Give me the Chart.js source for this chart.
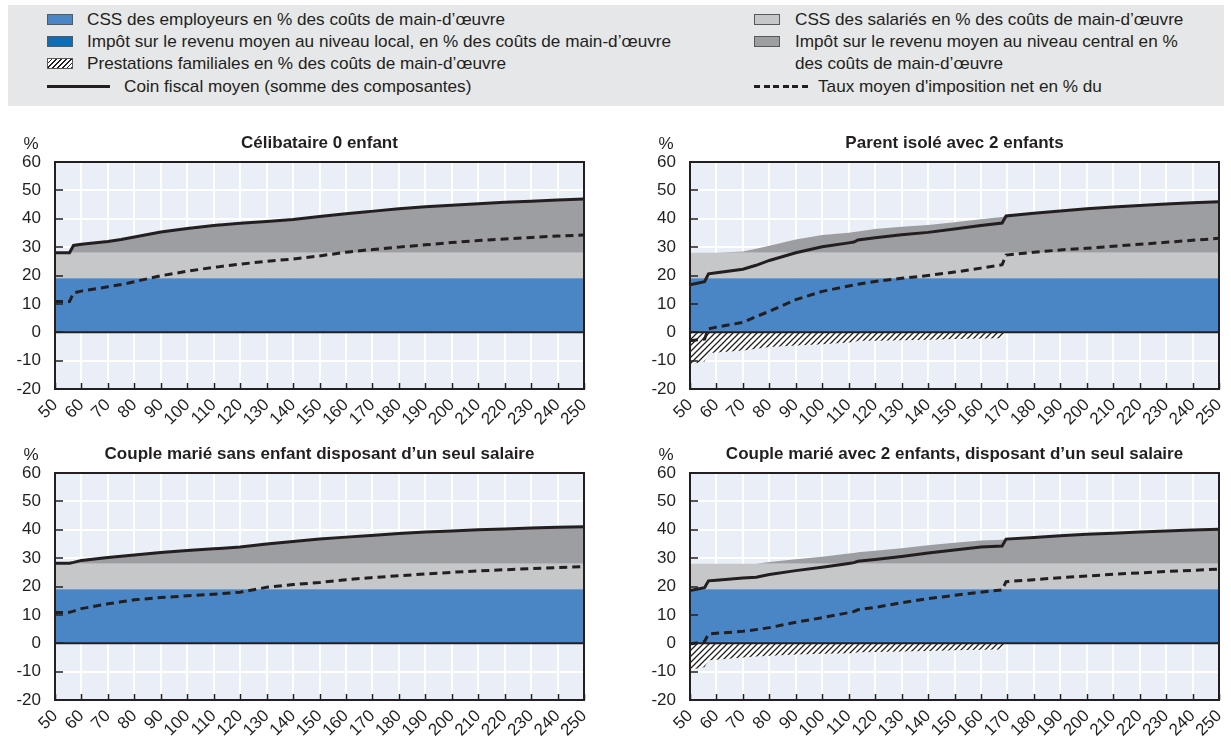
<!DOCTYPE html>
<html><head><meta charset="utf-8">
<script src="https://cdn.jsdelivr.net/npm/chart.js@4.4.1/dist/chart.umd.min.js"></script>
<style>
html,body{margin:0;padding:0;background:#fff;}
body{width:1231px;height:741px;position:relative;overflow:hidden;font-family:"Liberation Sans",Arial,sans-serif;color:#231f20;}
#legendBox{position:absolute;left:8px;top:5px;width:1216px;height:101px;background:#e6e7e8;}
.sw{position:absolute;width:24px;height:9px;border:1px solid #58595b;}
.tx{position:absolute;font-size:17px;line-height:19px;white-space:nowrap;transform:scaleX(1.01);transform-origin:0 50%;color:#231f20;}
.ln{position:absolute;height:3px;}
.panel{position:absolute;}
</style></head>
<body>
<div id="legendBox"></div>
<div class="panel" style="left:0px;top:125px"><canvas id="c1" width="600" height="300"></canvas></div>
<div class="panel" style="left:635px;top:125px"><canvas id="c2" width="596" height="300"></canvas></div>
<div class="panel" style="left:0px;top:436px"><canvas id="c3" width="600" height="300"></canvas></div>
<div class="panel" style="left:635px;top:436px"><canvas id="c4" width="596" height="300"></canvas></div>
<script>
// ---------- DATA ----------
// Wage levels (% of average wage)
const wageLevels = [50, 55.5, 57, 60, 70, 75, 80, 90, 100, 110, 112, 113.5, 120, 130, 140, 150, 160, 168, 169.5, 180, 190, 200, 210, 220, 230, 240, 250];
const xTickLabels = ['50','60','70','80','90','100','110','120','130','140','150','160','170','180','190','200','210','220','230','240','250'];
const yTickLabels = ['-20','-10','0','10','20','30','40','50','60'];

// Components common to all household types
const employerSSC = [19,19,19,19,19,19,19,19,19,19,19,19,19,19,19,19,19,19,19,19,19,19,19,19,19,19,19];
const employeeSSC = [9,9,9,9,9,9,9,9,9,9,9,9,9,9,9,9,9,9,9,9,9,9,9,9,9,9,9];
const localTax    = [0,0,0,0,0,0,0,0,0,0,0,0,0,0,0,0,0,0,0,0,0,0,0,0,0,0,0];

// Célibataire 0 enfant
const singleCentralTax = [0, 0, 2.6, 3.0, 4.0, 4.7, 5.6, 7.3, 8.6, 9.6, 9.8, 9.9, 10.4, 11.0, 11.7, 12.8, 13.8, 14.5, 14.6, 15.5, 16.2, 16.8, 17.3, 17.8, 18.2, 18.6, 19.0];
const singleBenefits   = [0,0,0,0,0,0,0,0,0,0,0,0,0,0,0,0,0,0,0,0,0,0,0,0,0,0,0];
const singleTaxWedge   = [28.0, 28.0, 30.6, 31.0, 32.0, 32.7, 33.6, 35.3, 36.6, 37.6, 37.8, 37.9, 38.4, 39.0, 39.7, 40.8, 41.8, 42.5, 42.6, 43.5, 44.2, 44.8, 45.3, 45.8, 46.2, 46.6, 47.0];
const singleNetRate    = [10.8, 10.8, 13.9, 14.5, 16.0, 16.8, 17.8, 19.9, 21.5, 22.9, 23.1, 23.3, 24.0, 25.0, 25.8, 26.9, 28.2, 29.0, 29.1, 30.0, 30.8, 31.6, 32.3, 32.9, 33.4, 33.9, 34.3];

// Parent isolé avec 2 enfants
const loneCentralTax = [0, 0, 0, 0, 0.5, 1.4, 2.5, 4.7, 6.3, 7.1, 7.3, 7.5, 8.4, 9.2, 9.8, 10.8, 11.8, 12.6, 13.0, 13.9, 14.7, 15.5, 16.1, 16.7, 17.2, 17.6, 18.0];
const loneBenefits   = [-11.3, -10.3, -7.3, -7.1, -6.4, -5.8, -5.2, -4.7, -4.2, -3.6, -3.5, -3.0, -3.0, -2.8, -2.6, -2.4, -2.2, -2.1, 0, 0, 0, 0, 0, 0, 0, 0, 0];
const loneTaxWedge   = [16.7, 17.8, 20.6, 21.0, 22.2, 23.6, 25.3, 28.0, 30.1, 31.5, 31.8, 32.5, 33.3, 34.4, 35.2, 36.4, 37.6, 38.5, 41.0, 41.9, 42.7, 43.5, 44.1, 44.7, 45.2, 45.6, 46.0];
const loneNetRate    = [-3.0, -2.4, 1.2, 1.8, 3.5, 5.5, 7.4, 11.5, 14.4, 16.3, 16.6, 16.9, 17.9, 19.0, 20.0, 21.2, 22.6, 23.8, 27.2, 28.2, 29.0, 29.6, 30.3, 31.0, 31.7, 32.4, 33.1];

// Couple marié sans enfant disposant d'un seul salaire
const coupleCentralTax = [0.2, 0.2, 0.5, 1.2, 2.2, 2.7, 3.1, 4.0, 4.7, 5.3, 5.4, 5.5, 5.9, 7.0, 7.9, 8.7, 9.4, 9.9, 10.0, 10.7, 11.2, 11.6, 12.0, 12.3, 12.6, 12.9, 13.1];
const coupleBenefits   = [0,0,0,0,0,0,0,0,0,0,0,0,0,0,0,0,0,0,0,0,0,0,0,0,0,0,0];
const coupleTaxWedge   = [28.2, 28.2, 28.5, 29.2, 30.2, 30.7, 31.1, 32.0, 32.7, 33.3, 33.4, 33.5, 33.9, 35.0, 35.9, 36.7, 37.4, 37.9, 38.0, 38.7, 39.2, 39.6, 40.0, 40.3, 40.6, 40.9, 41.1];
const coupleNetRate    = [10.8, 10.9, 11.3, 12.2, 13.9, 14.6, 15.3, 16.1, 16.7, 17.3, 17.4, 17.5, 18.0, 19.7, 20.7, 21.4, 22.4, 23.0, 23.1, 23.8, 24.4, 25.0, 25.5, 25.9, 26.3, 26.7, 27.0];

// Couple marié avec 2 enfants, disposant d'un seul salaire
const couple2CentralTax = [0, 0, 0, 0, 0, 0, 0.6, 1.6, 2.5, 3.6, 3.8, 4.1, 4.6, 5.5, 6.5, 7.4, 8.2, 8.5, 8.7, 9.3, 9.9, 10.4, 10.8, 11.2, 11.6, 11.9, 12.2];
const couple2Benefits   = [-9.4, -8.4, -6.0, -5.8, -5.0, -4.7, -4.4, -4.0, -3.7, -3.5, -3.4, -3.2, -3.1, -2.9, -2.7, -2.5, -2.3, -2.2, 0, 0, 0, 0, 0, 0, 0, 0, 0];
const couple2TaxWedge   = [18.6, 19.6, 22.0, 22.2, 23.0, 23.3, 24.2, 25.6, 26.8, 28.1, 28.4, 28.9, 29.5, 30.6, 31.8, 32.9, 33.9, 34.3, 36.7, 37.3, 37.9, 38.4, 38.8, 39.2, 39.6, 39.9, 40.2];
const couple2NetRate    = [-0.3, 0.6, 3.3, 3.5, 4.2, 4.8, 5.5, 7.4, 9.0, 10.8, 11.2, 11.8, 12.6, 14.3, 15.7, 16.9, 18.0, 18.8, 21.7, 22.4, 23.1, 23.7, 24.3, 24.8, 25.3, 25.7, 26.1];

// ---------- STYLE ----------
const FONT = '"Liberation Sans", Arial, sans-serif';
const INK = '#231f20';
const C_EMPLOYER = '#4a86c6';
const C_LOCAL = '#0d6db6';
const C_EMPLOYEE = '#c6c7c9';
const C_CENTRAL = '#9d9ea2';
const PLOT_BG = '#e9eef7';

function makeHatch() {
  const s = 6;
  const c = document.createElement('canvas');
  c.width = s; c.height = s;
  const g = c.getContext('2d');
  g.fillStyle = '#ffffff'; g.fillRect(0, 0, s, s);
  g.strokeStyle = INK; g.lineWidth = 1.3;
  g.beginPath();
  g.moveTo(-1, s + 1); g.lineTo(s + 1, -1);
  g.moveTo(-1, 1); g.lineTo(1, -1);
  g.moveTo(s - 1, s + 1); g.lineTo(s + 1, s - 1);
  g.stroke();
  return g.createPattern(c, 'repeat');
}
const HATCH = makeHatch();

// ---------- LEGEND ----------
function addEl(cls, css, text) {
  const d = document.createElement('div');
  d.className = cls;
  Object.assign(d.style, css);
  if (text) d.textContent = text;
  document.body.appendChild(d);
  return d;
}
const legendItems = [
  {kind: 'box', fill: C_EMPLOYER, x: 47, cy: 19, tx: 87, text: 'CSS des employeurs en % des coûts de main-d’œuvre'},
  {kind: 'box', fill: C_LOCAL, x: 47, cy: 41.5, tx: 87, text: 'Impôt sur le revenu moyen au niveau local, en % des coûts de main-d’œuvre'},
  {kind: 'hatch', x: 47, cy: 63, tx: 87, text: 'Prestations familiales en % des coûts de main-d’œuvre'},
  {kind: 'line', x: 47, w: 63, cy: 86, tx: 124, text: 'Coin fiscal moyen (somme des composantes)'},
  {kind: 'box', fill: C_EMPLOYEE, x: 754, cy: 19, tx: 795, text: 'CSS des salariés en % des coûts de main-d’œuvre'},
  {kind: 'box', fill: C_CENTRAL, x: 754, cy: 41.5, tx: 795, text: 'Impôt sur le revenu moyen au niveau central en %'},
  {kind: 'none', cy: 63, tx: 795, text: 'des coûts de main-d’œuvre'},
  {kind: 'dash', x: 754, w: 54, cy: 86, tx: 818, text: 'Taux moyen d\'imposition net en % du'}
];
legendItems.forEach(it => {
  if (it.kind === 'box') addEl('sw', {left: it.x + 'px', top: (it.cy - 5.5) + 'px', background: it.fill});
  if (it.kind === 'hatch') addEl('sw', {left: it.x + 'px', top: (it.cy - 5.5) + 'px', background: 'repeating-linear-gradient(135deg, #fff 0px, #fff 2.2px, #231f20 2.2px, #231f20 3.4px)'});
  if (it.kind === 'line') addEl('ln', {left: it.x + 'px', top: (it.cy - 1.5) + 'px', width: it.w + 'px', background: INK});
  if (it.kind === 'dash') addEl('ln', {left: it.x + 'px', top: (it.cy - 1.5) + 'px', width: it.w + 'px', background: 'repeating-linear-gradient(90deg, #231f20 0px, #231f20 6px, transparent 6px, transparent 9.6px)'});
  addEl('tx', {left: it.tx + 'px', top: (it.cy - 9.5) + 'px'}, it.text);
});

// ---------- PANELS ----------
const panelDeco = {
  id: 'panelDeco',
  beforeDraw(chart) {
    const a = chart.chartArea, c = chart.ctx;
    c.save(); c.fillStyle = PLOT_BG;
    c.fillRect(a.left, a.top, a.right - a.left, a.bottom - a.top);
    c.restore();
  },
  beforeDatasetsDraw(chart) {
    const a = chart.chartArea, c = chart.ctx;
    const y0 = chart.scales.y.getPixelForValue(0);
    c.save(); c.strokeStyle = INK; c.lineWidth = 2;
    c.beginPath(); c.moveTo(a.left, y0); c.lineTo(a.right, y0); c.stroke();
    c.restore();
  },
  afterDatasetsDraw(chart) {
    const a = chart.chartArea, c = chart.ctx;
    const xs = chart.scales.x, ys = chart.scales.y;
    c.save(); c.strokeStyle = INK; c.lineWidth = 1.5;
    c.beginPath();
    xs.ticks.forEach(t => {
      const px = Math.round(xs.getPixelForValue(t.value)) + 0.5;
      c.moveTo(px, a.bottom); c.lineTo(px, a.bottom - 6);
    });
    ys.ticks.forEach(t => {
      const py = Math.round(ys.getPixelForValue(t.value));
      c.moveTo(a.left, py); c.lineTo(a.left + 8, py);
    });
    c.stroke();
    c.lineWidth = 2;
    c.strokeRect(a.left, a.top, a.right - a.left, a.bottom - a.top);
    c.restore();
  },
  afterDraw(chart) {
    const a = chart.chartArea, c = chart.ctx;
    c.save(); c.fillStyle = INK; c.font = '17px ' + FONT;
    c.textAlign = 'center'; c.textBaseline = 'middle';
    c.fillText('%', a.left - 24, a.top - 18);
    c.restore();
  }
};

function cumulative(base, add) { return base.map((v, i) => v + add[i]); }
function pts(arr) { return wageLevels.map((x, i) => ({x: x, y: arr[i]})); }

function makePanel(id, title, padRight, central, benefits, wedge, netRate) {
  const top1 = employerSSC.slice();
  const top2 = cumulative(top1, employeeSSC);
  const top3 = cumulative(top2, localTax);
  const top4 = cumulative(top3, central);
  const area = (data, color, fill) => ({data: pts(data), backgroundColor: color, borderColor: 'rgba(0,0,0,0)', borderWidth: 0, fill: fill, pointRadius: 0});
  return new Chart(document.getElementById(id), {
    type: 'line',
    data: {datasets: [
      area(top1, C_EMPLOYER, 'origin'),
      area(top2, C_EMPLOYEE, '-1'),
      area(top3, C_LOCAL, '-1'),
      area(top4, C_CENTRAL, '-1'),
      area(benefits, HATCH, 'origin'),
      {data: pts(wedge), borderColor: INK, borderWidth: 3, fill: false, pointRadius: 0, order: -1},
      {data: pts(netRate), borderColor: INK, borderWidth: 3, borderDash: [8, 5], fill: false, pointRadius: 0, order: -2}
    ]},
    options: {
      responsive: false, animation: false, devicePixelRatio: 1,
      layout: {padding: {left: 0, right: padRight, top: 0, bottom: 0}},
      elements: {line: {tension: 0}, point: {radius: 0}},
      plugins: {
        legend: {display: false}, tooltip: {enabled: false},
        filler: {drawTime: 'beforeDatasetsDraw', propagate: false},
        title: {display: true, text: title, fullSize: false, color: INK,
                font: {family: FONT, size: 17, weight: 'bold'}, padding: {top: 8, bottom: 8.6}}
      },
      scales: {
        x: {type: 'linear', min: 50, max: 250,
            ticks: {stepSize: 10, autoSkip: false, minRotation: 45, maxRotation: 45, padding: 6, color: INK,
                    font: {family: FONT, size: 17},
                    callback: (v, i) => xTickLabels[i]},
            grid: {color: '#ffffff', lineWidth: 2, drawTicks: false},
            border: {display: false},
            afterFit: s => { s.height = 36; s.paddingLeft = 0; s.paddingRight = 0; }},
        y: {min: -20, max: 60,
            ticks: {stepSize: 10, padding: 14, color: INK, font: {family: FONT, size: 17},
                    callback: (v, i) => yTickLabels[i]},
            grid: {color: '#ffffff', lineWidth: 2, drawTicks: false},
            border: {display: false},
            afterFit: s => { s.width = 55; s.paddingTop = 0; s.paddingBottom = 0; }}
      }
    },
    plugins: [panelDeco]
  });
}

makePanel('c1', 'Célibataire 0 enfant', 16, singleCentralTax, singleBenefits, singleTaxWedge, singleNetRate);
makePanel('c2', 'Parent isolé avec 2 enfants', 12, loneCentralTax, loneBenefits, loneTaxWedge, loneNetRate);
makePanel('c3', 'Couple marié sans enfant disposant d’un seul salaire', 16, coupleCentralTax, coupleBenefits, coupleTaxWedge, coupleNetRate);
makePanel('c4', 'Couple marié avec 2 enfants, disposant d’un seul salaire', 12, couple2CentralTax, couple2Benefits, couple2TaxWedge, couple2NetRate);
</script>
</body></html>
